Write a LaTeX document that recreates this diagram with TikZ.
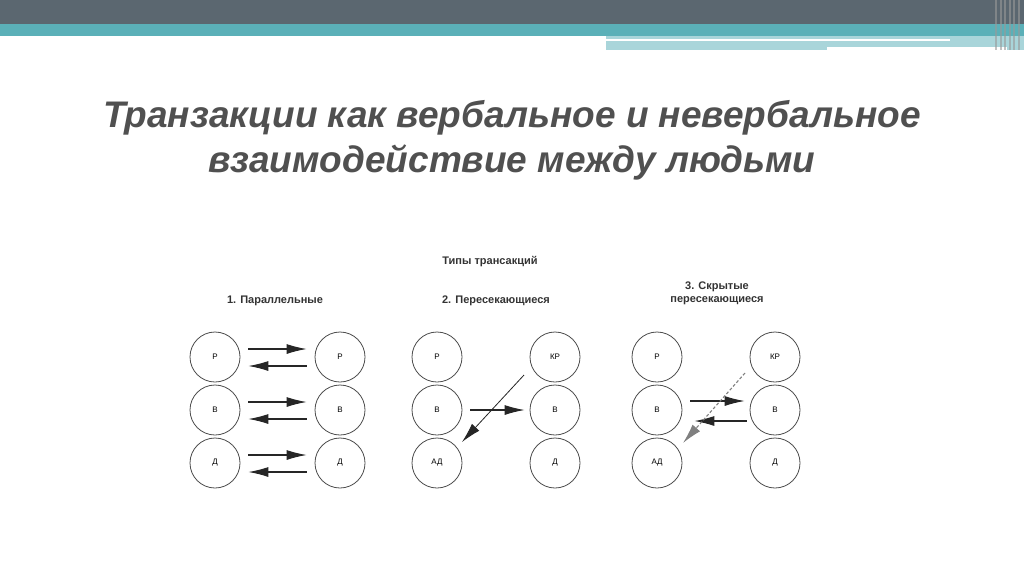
\documentclass[tikz,border=0pt]{standalone}
\usepackage{fontspec}
\setmainfont{Liberation Sans}
\usetikzlibrary{arrows.meta}
\definecolor{dark}{HTML}{5B6770}
\definecolor{teal}{HTML}{5BB0B8}
\definecolor{lteal}{HTML}{A9D5DA}
\definecolor{ttl}{HTML}{505050}
\tikzset{
 st/.style={circle,draw=black!70,line width=0.8pt,minimum size=50pt,inner sep=0pt,font=\fontsize{8}{9}\selectfont},
 lbl/.style={font=\bfseries\fontsize{11}{13}\selectfont,text=black!80},
 ar/.style={-{Latex[length=20pt,width=10pt]},line width=1.1pt,black!85},
 dar/.style={ar,densely dashed,black!50}
}
\begin{document}
\begin{tikzpicture}[x=1pt,y=-1pt]
\useasboundingbox (0,0) rectangle (1024,574);
\fill[white] (0,0) rectangle (1024,574);
\fill[dark] (0,0) rectangle (1024,24);
\fill[teal] (0,24) rectangle (1024,36);
\fill[lteal] (606,36) rectangle (1024,50);
\fill[white] (606,39) rectangle (950,41);
\fill[white] (827,47) rectangle (1007,50);
\foreach \x in {995,1000,1004,1009,1013,1018}{\fill[black!40,opacity=0.6] (\x,0) rectangle (\x+1.5,50);}
\node[font=\bfseries\itshape\fontsize{37}{45}\selectfont,text=ttl,align=center] (title) at (512,140) {Транзакции как вербальное и невербальное\\взаимодействие между людьми};
\node[lbl] (types) at (490,262) {Типы трансакций};
\node[lbl] (t1) at (275,301) {1. Параллельные};
\node[lbl] (t2) at (496,301) {2. Пересекающиеся};
\node[lbl,align=center] (t3) at (717,293) {3. Скрытые\\пересекающиеся};
% group 1
\node[st] (a1) at (215,357) {Р}; \node[st] (a2) at (215,410) {В}; \node[st] (a3) at (215,463) {Д};
\node[st] (b1) at (340,357) {Р}; \node[st] (b2) at (340,410) {В}; \node[st] (b3) at (340,463) {Д};
\foreach \i in {1,2,3}{
 \draw[ar] ([shift={(8,-8)}]a\i.east) -- ([shift={(-8,-8)}]b\i.west);
 \draw[ar] ([shift={(-8,9)}]b\i.west) -- ([shift={(8,9)}]a\i.east);
}
% group 2
\node[st] (c1) at (437,357) {Р}; \node[st] (c2) at (437,410) {В}; \node[st] (c3) at (437,463) {АД};
\node[st] (d1) at (555,357) {КР}; \node[st] (d2) at (555,410) {В}; \node[st] (d3) at (555,463) {Д};
\draw[ar] ([xshift=8]c2.east) -- ([xshift=-5]d2.west);
\coordinate (s2) at (524,375);
\draw[ar,line width=0.8pt] (s2) -- (462,442);
% group 3
\node[st] (e1) at (657,357) {Р}; \node[st] (e2) at (657,410) {В}; \node[st] (e3) at (657,463) {АД};
\node[st] (f1) at (775,357) {КР}; \node[st] (f2) at (775,410) {В}; \node[st] (f3) at (775,463) {Д};
\draw[ar] ([shift={(8,-9)}]e2.east) -- ([shift={(-5,-9)}]f2.west);
\draw[ar] ([shift={(-3,11)}]f2.west) -- ([shift={(12,11)}]e2.east);
\coordinate (s3) at (745,373);
\draw[dar] (s3) -- (683,443);
\end{tikzpicture}
\end{document}
